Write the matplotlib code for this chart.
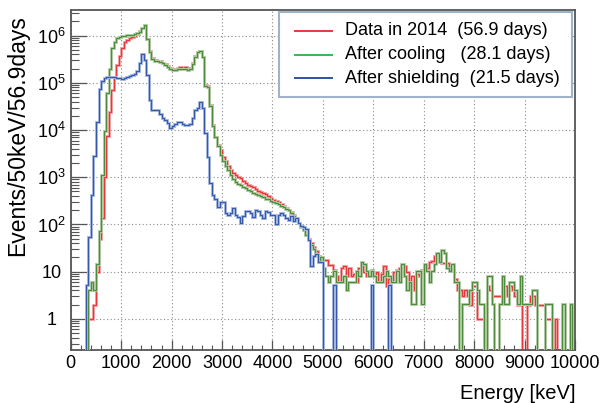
import numpy as np
import matplotlib
matplotlib.use("Agg")
import matplotlib.pyplot as plt
from matplotlib.patches import Rectangle
from matplotlib.ticker import MultipleLocator, LogLocator, NullFormatter

plt.rcParams["font.family"] = ["Liberation Sans", "DejaVu Sans"]
plt.rcParams["mathtext.fontset"] = "custom"
plt.rcParams["mathtext.rm"] = "Liberation Sans"

# 50 keV bins from 0 to 10000 keV, normalised to 56.9 days
energy_edges = np.arange(0, 10001, 50)

data_2014 = [
    0, 0, 0, 0, 0, 0, 0, 1, 1, 2,                                        # 0-500
    10, 50, 140, 1000, 7600, 2.4e4, 7.0e4, 1.3e5, 2.4e5, 3.7e5,          # 500-1000
    5.5e5, 7.2e5, 8.2e5, 8.8e5, 9.3e5, 1.0e6, 1.1e6, 1.25e6, 1.45e6, 1.6e6,
    8.5e5, 4.7e5, 3.3e5, 3.0e5, 2.9e5, 2.85e5, 2.7e5, 2.5e5, 2.25e5, 2.05e5,
    1.95e5, 2.0e5, 2.1e5, 2.15e5, 2.1e5, 2.15e5, 2.05e5, 2.1e5, 2.6e5, 3.8e5,
    4.6e5, 4.7e5, 3.6e5, 9.0e4, 8.5e4, 3.4e4, 1.3e4, 7300, 4800, 3800,   # 2500-3000
    2750, 2200, 1750, 1450, 1250, 1100, 1000, 950, 840, 770,
    690, 640, 610, 570, 520, 495, 460, 440, 400, 365,
    335, 310, 295, 270, 250, 225, 205, 180, 155, 130,
    108, 92, 78, 63, 50, 40, 33, 27, 22, 19,                             # 4500-5000
    18, 18, 14, 14, 11, 8, 6, 12, 13, 8,
    12, 8, 9, 6, 12, 15, 10, 8, 10, 11,
    8, 10, 6, 9, 13, 5, 7, 6, 10, 11,
    12, 8, 13, 10, 5, 8, 4, 9, 8, 11,
    13, 12, 16, 17, 22, 25, 19, 15, 15, 15,                              # 7000-7500
    12, 11, 7, 4, 4, 3, 4, 3, 2, 5,
    5, 1, 1, 1, 0, 5, 4, 3, 3, 3,
    3, 5, 5, 3, 5, 4, 3, 2, 2, 0,
    0, 2, 3, 3, 2, 2, 2, 2, 1, 1,
    1, 0, 1, 0, 0, 0, 0, 0, 0, 0,                                        # 9500-10000
]

after_cooling = [
    0, 0, 0, 0, 0, 0, 0, 4.05, 6.07, 4.05,
    14.2, 72, 1100, 9400, 6.0e4, 2.0e5, 5.4e5, 7.5e5, 8.8e5, 9.5e5,
    1.0e6, 1.0e6, 1.02e6, 1.03e6, 1.05e6, 1.08e6, 1.12e6, 1.2e6, 1.45e6, 1.65e6,
    8.3e5, 4.6e5, 3.2e5, 2.9e5, 2.85e5, 2.8e5, 2.65e5, 2.45e5, 2.15e5, 1.95e5,
    1.85e5, 1.9e5, 1.95e5, 1.95e5, 1.95e5, 2.0e5, 1.9e5, 2.0e5, 2.5e5, 3.6e5,
    4.5e5, 4.8e5, 3.5e5, 8.5e4, 8.0e4, 3.2e4, 1.2e4, 7000, 4500, 3000,
    2200, 1750, 1400, 1100, 920, 780, 720, 670, 620, 580,
    530, 500, 470, 440, 420, 395, 380, 350, 345, 320,
    300, 280, 270, 250, 235, 212, 198, 175, 150, 125,
    105, 90, 76, 60, 48, 36, 30, 24, 16.2, 20.2,
    12.1, 8.1, 6.07, 8.1, 10.1, 6.07, 6.07, 6.07, 8.1, 4.05,
    6.07, 6.07, 6.07, 10.1, 8.1, 16.2, 14.2, 10.1, 8.1, 10.1,
    8.1, 6.07, 6.07, 6.07, 8.1, 10.1, 8.1, 6.07, 6.07, 10.1,
    6.07, 14.2, 8.1, 4.05, 6.07, 2.02, 2.02, 10.1, 10.1, 2.02,
    14.2, 10.1, 6.07, 10.1, 14.2, 24.3, 16.2, 28.3, 24.3, 12.1,
    10.1, 14.2, 6.07, 6.07, 0, 2.02, 2.02, 2.02, 4.05, 6.07,
    6.07, 4.05, 2.02, 2.02, 0, 8.1, 8.1, 2.02, 0, 0,
    2.02, 8.1, 2.02, 2.02, 6.07, 6.07, 4.05, 2.02, 8.1, 2.02,
    2.02, 2.02, 2.02, 4.05, 4.05, 0, 0, 0, 2.02, 2.02,
    2.02, 0, 0, 0, 0, 2.02, 0, 0, 2.02, 0,
]

after_shielding = [
    0, 0, 0, 0, 0, 0, 5.3, 53, 420, 2800,
    1.5e4, 7.4e4, 1.1e5, 1.25e5, 1.3e5, 1.32e5, 1.3e5, 1.3e5, 1.28e5, 1.27e5,
    1.22e5, 1.25e5, 1.35e5, 1.4e5, 1.45e5, 1.55e5, 1.8e5, 2.6e5, 4.0e5, 3.1e5,
    1.5e5, 4.4e4, 2.7e4, 2.6e4, 2.7e4, 2.2e4, 1.8e4, 1.6e4, 1.4e4, 1.12e4,
    1.25e4, 1.36e4, 1.45e4, 1.45e4, 1.36e4, 1.3e4, 1.3e4, 1.36e4, 1.8e4, 2.6e4,
    3.0e4, 3.9e4, 3.0e4, 8500, 2700, 750, 420, 350, 235, 295,
    300, 177, 162, 175, 218, 162, 145, 109, 150, 190,
    190, 177, 145, 207, 190, 155, 138, 190, 183, 162,
    155, 100, 162, 171, 162, 138, 127, 150, 117, 138,
    109, 95, 88, 79, 48, 13.2, 21.2, 23.8, 15.9, 15.9,
    0, 0, 0, 0, 5.3, 0, 0, 0, 0, 0,
    0, 0, 0, 0, 0, 0, 0, 0, 0, 5.3,
    0, 0, 0, 0, 0, 0, 5.3, 0, 0, 0,
    0, 0, 0, 0, 0, 0, 0, 0, 0, 0,
    0, 0, 0, 0, 0, 0, 0, 0, 0, 0,
    0, 0, 0, 0, 0, 0, 0, 0, 0, 0,
    0, 0, 0, 0, 0, 0, 0, 0, 0, 0,
    0, 0, 0, 0, 0, 0, 0, 0, 0, 0,
    0, 0, 0, 0, 0, 0, 0, 0, 0, 0,
    0, 0, 0, 0, 0, 0, 0, 0, 0, 0,
]

series_labels = [
    "Data in 2014  (56.9 days)",
    "After cooling   (28.1 days)",
    "After shielding  (21.5 days)",
]
line_colors = ["#e5383b", "#4e8b3a", "#3558a8"]
halo_colors = ["#f4a6a8", "#b4cfa8", "#a9bde3"]
legend_colors = ["#e8383c", "#3cb450", "#3050a8"]

W, H = 606, 403
fig = plt.figure(figsize=(W / 100, H / 100), dpi=100)
ax = fig.add_axes([70.8 / W, 1 - 350 / H, 504.2 / W, 340 / H])
ax.set_yscale("log")
ax.set_xlim(0, 10000)
ax.set_ylim(0.219, 3.5e6)

# empty bins drop to the bottom of the frame like ROOT does
for i, values in enumerate([data_2014, after_cooling, after_shielding]):
    v = np.asarray(values, dtype=float)
    v = np.where(v > 0, v, 1e-3)
    ax.stairs(v, energy_edges, baseline=None, color=halo_colors[i],
              lw=2.1, zorder=2 + 2 * i)
    ax.stairs(v, energy_edges, baseline=None, color=line_colors[i],
              lw=0.85, zorder=3 + 2 * i)

# axes cosmetics
ax.set_axisbelow(True)
ax.grid(True, which="major", linestyle=(0, (1, 2.2)), color="#8a8a8a", lw=0.8)
for s in ax.spines.values():
    s.set_color("#555555")
    s.set_linewidth(1.3)

ax.set_xticks(np.arange(0, 10001, 1000))
ax.xaxis.set_minor_locator(MultipleLocator(200))
yt = [1, 10, 1e2, 1e3, 1e4, 1e5, 1e6]
ax.set_yticks(yt)
ax.set_yticklabels(["1", "10"] + [r"$\mathregular{10^{%d}}$" % k for k in range(2, 7)],
                   ha="center")
ax.yaxis.set_minor_locator(LogLocator(base=10, subs=np.arange(2, 10), numticks=20))
ax.yaxis.set_minor_formatter(NullFormatter())

ax.tick_params(axis="x", which="major", direction="in", length=7, width=0.9,
               color="#555555", labelsize=13, pad=3.5)
ax.tick_params(axis="x", which="minor", direction="in", length=3.5, width=0.8,
               color="#555555")
ax.tick_params(axis="y", which="major", direction="in", length=11.5, width=0.9,
               color="#555555", labelsize=13, pad=14)
ax.tick_params(axis="y", which="minor", direction="in", length=5.8, width=0.8,
               color="#555555")

ax.set_xlabel("Energy [keV]", fontsize=14.5, loc="right", va="center")
ax.xaxis.set_label_coords(1.0, -0.1265)
ax.set_ylabel("Events/50keV/56.9days", fontsize=16.5, loc="top", va="center")
ax.yaxis.set_label_coords(-0.1047, 0.985)

# legend box, ROOT style
def fx(px):
    return px / W

def fy(py):
    return 1 - py / H

box = Rectangle((fx(279), fy(97)), fx(572) - fx(279), fy(12) - fy(97),
                transform=fig.transFigure, facecolor="white", edgecolor="#9fb3c8",
                lw=1.5, zorder=20, clip_on=False)
ax.add_patch(box)
row_y = [30.7, 54.5, 78.3]
for i, lab in enumerate(series_labels):
    ax.plot([fx(295), fx(332)], [fy(row_y[i])] * 2, transform=fig.transFigure,
            color=legend_colors[i], lw=1.4, zorder=21, clip_on=False)
    ax.text(fx(345), fy(row_y[i]), lab, transform=fig.transFigure, fontsize=13,
            va="center", ha="left", zorder=21)

fig.savefig("out.png", dpi=100)
